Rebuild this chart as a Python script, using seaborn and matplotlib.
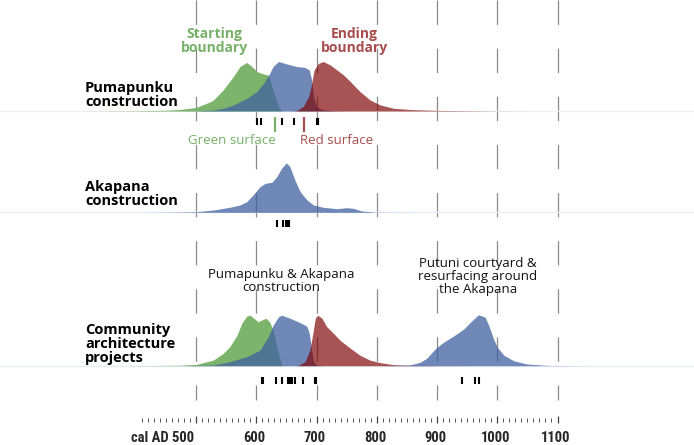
import numpy as np
import matplotlib
matplotlib.use("Agg")
import matplotlib.pyplot as plt
from matplotlib import font_manager
import seaborn as sns

# DATA (cal AD years and relative density heights)

# Pumapunku construction
PUMA_START_YEARS = [300, 400, 450, 473, 500, 523, 529, 545, 562, 573, 584, 592, 601, 612, 620, 628, 637, 642]
PUMA_START_DENS  = [0, .006, .016, .03, .07, .18, .22, .42, .69, .89, .97, .90, .79, .74, .72, .42, .09, 0]

PUMA_PHASE_YEARS = [450, 500, 529, 545, 562, 584, 601, 612, 620, 628, 637, 651, 667, 681, 688, 692, 695, 700, 711, 728, 760]
PUMA_PHASE_DENS  = [0, .004, .02, .054, .12, .25, .39, .55, .70, .89, .99, .94, .89, .87, .82, .62, .29, .09, .02, .006, 0]

PUMA_END_YEARS = [660, 667, 678, 687, 692, 696, 703, 711, 723, 734, 745, 756, 772, 789, 806, 828, 860, 900, 950, 1000, 1060]
PUMA_END_DENS  = [0, .01, .09, .29, .55, .82, .95, .99, .92, .82, .72, .59, .39, .22, .12, .054, .026, .012, .006, .002, 0]

PUMA_DATES = [602, 608, 643, 663, 701, 703]
GREEN_SURFACE = 631
RED_SURFACE = 679

# Akapana construction
AKA_YEARS = [420, 473, 501, 529, 556, 573, 584, 595, 606, 615, 626, 634, 642, 650, 656, 664, 673, 684, 695,
             711, 734, 750, 761, 775, 795, 817, 860]
AKA_DENS  = [0, .006, .012, .046, .10, .146, .21, .35, .51, .58, .60, .71, .88, .99, .91, .65, .41, .25, .146,
             .10, .072, .092, .08, .026, .006, .002, 0]
AKA_DATES = [634, 645, 649, 651, 654]

# Community architecture projects
COMM_START_YEARS = [400, 473, 501, 529, 545, 556, 568, 576, 584, 590, 596, 603, 612, 616, 622, 628, 634, 640, 642]
COMM_START_DENS  = [0, .01, .026, .114, .246, .38, .61, .85, .99, 1.01, .95, .88, .93, .95, .88, .71, .38, .11, 0]

COMM_PHASE_YEARS = [480, 529, 556, 584, 606, 620, 628, 637, 642, 656, 673, 684, 688, 692, 695, 700, 710]
COMM_PHASE_DENS  = [0, .014, .08, .18, .31, .58, .81, .98, 1.01, .95, .86, .79, .65, .31, .08, .014, 0]

COMM_END_YEARS = [665, 670, 681, 689, 694, 698, 702, 709, 717, 728, 739, 756, 772, 789, 806, 828, 850, 900, 960]
COMM_END_DENS  = [0, .006, .08, .31, .65, .95, 1.01, .95, .78, .65, .51, .35, .21, .11, .06, .02, .01, .002, 0]

PUTUNI_YEARS = [800, 822, 855, 872, 883, 892, 900, 911, 927, 944, 958, 969, 980, 987, 994, 1000, 1011, 1027,
                1049, 1083, 1150]
PUTUNI_DENS  = [0, .004, .014, .068, .15, .27, .37, .47, .59, .73, .90, 1.02, .97, .77, .53, .37, .21, .10,
                .034, .006, 0]

COMM_DATES = [610, 612, 633, 642, 653, 656, 660, 664, 678, 697, 699, 941, 963, 969]

GRID_YEARS = [500, 600, 700, 800, 900, 1000, 1100]
TICK_LABELS = ["cal AD 500", "600", "700", "800", "900", "1000", "1100"]


# LAYOUT (figure pixels, y measured from the top)

PX_PER_YEAR = 0.6025
X_LEFT = 500 - 196 / PX_PER_YEAR
X_RIGHT = X_LEFT + 694 / PX_PER_YEAR
ROW_H = 50

BASE_PUMA = 111
BASE_AKA = 212.3
BASE_COMM = 365.7

GREEN = "#7db46c"
BLUE = "#3f60a0"
RED = "#7d0000"
GREEN_TXT = "#77b168"
RED_TXT = "#a84c4c"

sns.set_theme(style="white")

installed = {f.name for f in font_manager.fontManager.ttflist}
MAIN_FONT = "Open Sans" if "Open Sans" in installed else "Lato"
NARROW_FONT = MAIN_FONT
for cand in ["Liberation Sans Narrow", "DejaVu Sans Condensed", "Roboto Condensed", "Open Sans Condensed"]:
    if cand in installed:
        NARROW_FONT = cand
        break

plt.rcParams["font.family"] = [MAIN_FONT, "DejaVu Sans"]

fig = plt.figure(figsize=(6.94, 4.45), dpi=100)
ax = fig.add_axes([0, 0, 1, 1])
ax.set_xlim(X_LEFT, X_RIGHT)
ax.set_ylim(445, 0)
ax.axis("off")


def yr(px):
    """pixel x -> year on the axis."""
    return X_LEFT + px / PX_PER_YEAR


# dashed guide lines
for g in GRID_YEARS:
    ax.plot([g, g], [0, 400], color="#8a8a8a", lw=0.9,
            linestyle=(0, (19.5, 19.0)), zorder=1)

# faint baselines
for base, col in [(BASE_PUMA, "#edf0ee"), (BASE_AKA, "#e8ecf3"), (BASE_COMM, "#e8ecf3")]:
    ax.plot([X_LEFT, X_RIGHT], [base, base], color=col, lw=1.0, zorder=2)


def density(years, dens, base, color, alpha):
    top = base - np.asarray(dens) * ROW_H
    ax.fill_between(years, base, top, color=color, alpha=alpha, linewidth=0, zorder=3)


density(PUMA_START_YEARS, PUMA_START_DENS, BASE_PUMA, GREEN, 1.0)
density(PUMA_PHASE_YEARS, PUMA_PHASE_DENS, BASE_PUMA, BLUE, 0.75)
density(PUMA_END_YEARS, PUMA_END_DENS, BASE_PUMA, RED, 0.67)

density(AKA_YEARS, AKA_DENS, BASE_AKA, BLUE, 0.75)

density(COMM_START_YEARS, COMM_START_DENS, BASE_COMM, GREEN, 1.0)
density(COMM_PHASE_YEARS, COMM_PHASE_DENS, BASE_COMM, BLUE, 0.75)
density(COMM_END_YEARS, COMM_END_DENS, BASE_COMM, RED, 0.67)
density(PUTUNI_YEARS, PUTUNI_DENS, BASE_COMM, BLUE, 0.75)

# dated samples
ax.vlines(PUMA_DATES, 118, 125, color="black", lw=1.5, zorder=4)
ax.vlines(AKA_DATES, 220, 227, color="black", lw=1.5, zorder=4)
ax.vlines(COMM_DATES, 377, 383.5, color="black", lw=1.5, zorder=4)

ax.vlines([GREEN_SURFACE], 116.5, 132, color=GREEN_TXT, lw=1.6, zorder=4)
ax.vlines([RED_SURFACE], 116.5, 132, color=RED_TXT, lw=1.6, zorder=4)
ax.text(GREEN_SURFACE + 2, 140, "Green surface", color=GREEN_TXT, fontsize=9.5,
        ha="right", va="center")
ax.text(RED_SURFACE - 6, 140, "Red surface", color=RED_TXT, fontsize=9.5,
        ha="left", va="center")

# row labels
row_kw = dict(fontsize=10.5, fontweight="bold", color="black", ha="left", va="center", linespacing=1.03)
ax.text(yr(85), 95, "Pumapunku\nconstruction", **row_kw)
ax.text(yr(85), 194, "Akapana\nconstruction", **row_kw)
ax.text(yr(85), 344, "Community\narchitecture\nprojects", **row_kw)

# boundary labels
ax.text(yr(214), 41, "Starting\nboundary", color=GREEN_TXT, fontsize=10, fontweight="bold",
        ha="center", va="center", linespacing=1.0)
ax.text(yr(354), 41, "Ending\nboundary", color=RED_TXT, fontsize=10, fontweight="bold",
        ha="center", va="center", linespacing=1.0)

# group labels
ax.text(yr(281.7), 281, "Pumapunku & Akapana\nconstruction", fontsize=9.5, color="#111111",
        ha="center", va="center", linespacing=0.98)
ax.text(yr(478), 276.5, "Putuni courtyard &\nresurfacing around\nthe Akapana", fontsize=9.5,
        color="#111111", ha="center", va="center", linespacing=0.98)

# time axis
minor = np.arange(400, 1101, 10)
minor = minor[minor % 100 != 0]
ax.vlines(minor, 417.7, 421.7, color="#555555", lw=0.7)
ax.vlines(GRID_YEARS, 415.7, 423.3, color="#444444", lw=0.9)

for g, lab in zip(GRID_YEARS, TICK_LABELS):
    ha = "right" if lab.startswith("cal") else "center"
    ax.text(g - 3, 437.5, lab, ha=ha, va="center", fontsize=10.5, fontweight="bold",
            family=[NARROW_FONT, "DejaVu Sans"])

fig.savefig("out.png", dpi=100)
